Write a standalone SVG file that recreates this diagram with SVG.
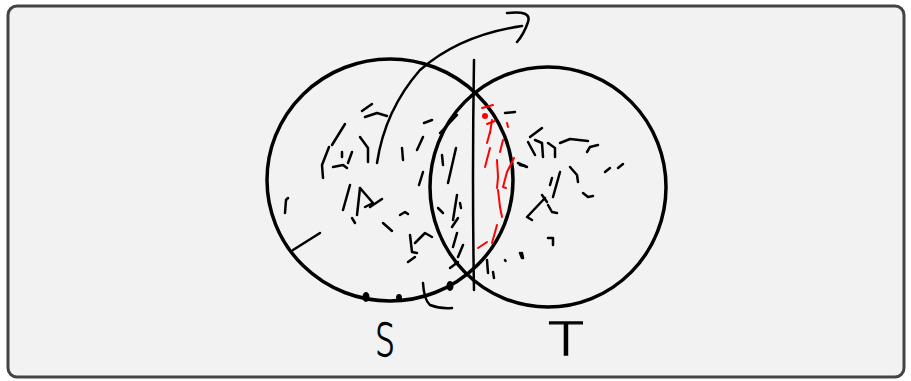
<svg xmlns="http://www.w3.org/2000/svg" width="911" height="381" viewBox="0 0 911 381">
<style>
.frame{fill:#f2f2f2;stroke:#444;stroke-width:3}
.ring{fill:none;stroke:#000;stroke-width:3.5}
.ink{fill:none;stroke:#000;stroke-width:2.5;stroke-linecap:round;stroke-linejoin:round}
.red{fill:none;stroke:#f00;stroke-width:2;stroke-linecap:round;stroke-linejoin:round}
.lbl{font-family:"DejaVu Sans","Liberation Sans",sans-serif;font-weight:300;font-size:44px;fill:#000;stroke:#000;stroke-width:1.3}
</style>
<rect class="frame" x="8" y="6" width="896" height="371" rx="9"/>
<g id="set-S">
<ellipse class="ring" cx="390" cy="180" rx="123" ry="121"/>
<text class="lbl" x="385" y="356" text-anchor="middle" transform="translate(385 0) scale(0.7 1) translate(-385 0)">S</text>
</g>
<g id="set-T">
<ellipse class="ring" cx="548" cy="187" rx="118" ry="120"/>
<text class="lbl" x="566" y="355" text-anchor="middle" transform="translate(566 0) scale(1.3 1) translate(-566 0)">T</text>
</g>
<g id="connectors">
<path class="ink" d="M474 60 Q472 180 474 290" stroke-width="3"/>
<path class="ink" d="M377 163 Q385 110 420 70 Q460 35 522 26"/>
<path class="ink" d="M507 13 Q532 10 528 22 Q524 34 517 42"/>
</g>
<g id="marks-black">
<path class="ink" d="M293 250 L320 233"/>
<path class="ink" d="M285 213 L286 200 L288 198"/>
<path class="ink" d="M362 111 L372 104"/>
<path class="ink" d="M365 117 L377 113 L387 116"/>
<path class="ink" d="M345 124 L332 145"/>
<path class="ink" d="M329 147 L322 165 L323 178"/>
<path class="ink" d="M360 137 L368 148 L368 162"/>
<path class="ink" d="M342 152 L342 157"/>
<path class="ink" d="M352 152 L348 163"/>
<path class="ink" d="M333 167 L343 165 L347 168"/>
<path class="ink" d="M402 148 L403 160"/>
<path class="ink" d="M424 123 L432 120"/>
<path class="ink" d="M423 137 L417 150"/>
<path class="ink" d="M423 172 L419 185"/>
<path class="ink" d="M457 115 L440 133"/>
<path class="ink" d="M350 185 L343 210"/>
<path class="ink" d="M360 188 L357 215"/>
<path class="ink" d="M360 188 L373 203 L365 207"/>
<path class="ink" d="M382 199 L370 207"/>
<path class="ink" d="M352 218 L355 223"/>
<path class="ink" d="M400 215 L405 212 L408 214"/>
<path class="ink" d="M383 223 L392 231"/>
<path class="ink" d="M410 235 L412 252 L417 253"/>
<path class="ink" d="M408 262 L415 257"/>
<path class="ink" d="M415 243 L425 233 L432 237"/>
<path class="ink" d="M442 155 L443 165"/>
<path class="ink" d="M456 148 L448 183"/>
<path class="ink" d="M438 208 L443 213"/>
<path class="ink" d="M457 195 L453 220"/>
<path class="ink" d="M460 203 L461 208"/>
<path class="ink" d="M458 218 L452 227"/>
<path class="ink" d="M457 233 L453 247"/>
<path class="ink" d="M463 245 L458 257"/>
<path class="ink" d="M450 268 L458 262"/>
<path class="ink" d="M505 113 L515 112"/>
<path class="ink" d="M487 260 L488 273"/>
<path class="ink" d="M493 272 L494 278"/>
<path class="ink" d="M505 260 L505.5 261"/>
<path class="ink" d="M520 253 L522 258"/>
<path class="ink" d="M520 165 L525 166"/>
<path class="ink" d="M530 137 L542 128"/>
<path class="ink" d="M528 142 L535 155"/>
<path class="ink" d="M535 140 L542 143 L543 157"/>
<path class="ink" d="M548 143 L555 148 L555 157"/>
<path class="ink" d="M560 143 L570 139 L588 141"/>
<path class="ink" d="M587 152 L590 147 L598 145"/>
<path class="ink" d="M518 163 L527 167"/>
<path class="ink" d="M570 167 L577 175 L578 182"/>
<path class="ink" d="M560 172 L553 197"/>
<path class="ink" d="M552 178 L550 185"/>
<path class="ink" d="M605 172 L610 168"/>
<path class="ink" d="M618 168 L623 164"/>
<path class="ink" d="M583 193 L588 197 L593 196"/>
<path class="ink" d="M545 198 L527 217 L532 220"/>
<path class="ink" d="M542 195 L547 202"/>
<path class="ink" d="M548 205 L552 212 L557 213"/>
<path class="ink" d="M548 238 L553 238 L553 245"/>
<path class="ink" d="M522 253 L523 258"/>
<path class="ink" d="M423 283 Q424 300 430 305 Q440 309 452 308"/>
<ellipse cx="366" cy="297" rx="3.5" ry="5" fill="#000"/>
<ellipse cx="399" cy="298" rx="3" ry="4" fill="#000"/>
<ellipse cx="450" cy="286" rx="3.5" ry="5" fill="#000"/>
</g>
<g id="marks-red">
<path class="red" d="M482 108 L493 105"/>
<circle cx="485" cy="116" r="3" fill="#f00"/>
<path class="red" d="M487 124 L495 121"/>
<path class="red" d="M492 120 L490 133"/>
<path class="red" d="M507 123 L508 127"/>
<path class="red" d="M490 132 L487 143"/>
<path class="red" d="M503 140 L500 152"/>
<path class="red" d="M490 148 L485 167"/>
<path class="red" d="M497 160 L498 177 L497 188"/>
<path class="red" d="M514 158 L507 172 L503 187 L506 188"/>
<path class="red" d="M498 190 L500 207 L502 217"/>
<path class="red" d="M497 225 L492 243"/>
<path class="red" d="M487 242 L478 248"/>
</g>
</svg>
